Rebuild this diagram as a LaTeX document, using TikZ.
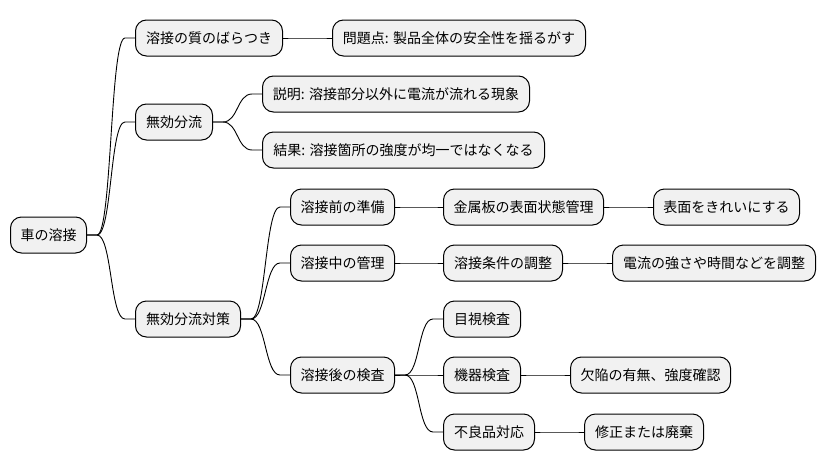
\documentclass[tikz,border=0pt]{standalone}
\usepackage{fontspec}
\setmainfont{Noto Sans CJK JP}
\usetikzlibrary{calc}
\definecolor{boxfill}{HTML}{F1F1F1}
\tikzset{
  mm/.style={draw=black, line width=1pt, fill=boxfill, rounded corners=11pt,
    minimum height=36pt, inner sep=0pt, anchor=west,
    font=\fontsize{14}{16}\selectfont},
  conn/.style={draw=black, line width=0.9pt}
}
\newcommand\mmconn[2]{%
  \draw[conn] (#1.east) -- ++(10,0) .. controls +(15,0) and +(-15,0) .. ($(#2.west)+(-10,0)$) -- (#2.west);%
}
\begin{document}
\begin{tikzpicture}[x=1pt,y=-1pt]
\useasboundingbox (0,0) rectangle (824,471);
\node[mm, minimum width=76pt] (root) at (10,235) {車の溶接};
\node[mm, minimum width=147pt] (q) at (135,38) {溶接の質のばらつき};
\node[mm, minimum width=253pt] (p) at (332,38) {問題点: 製品全体の安全性を揺るがす};
\node[mm, minimum width=77pt] (m) at (135,122) {無効分流};
\node[mm, minimum width=267pt] (e) at (262,94) {説明: 溶接部分以外に電流が流れる現象};
\node[mm, minimum width=282pt] (r) at (262,150) {結果: 溶接箇所の強度が均一ではなくなる};
\node[mm, minimum width=105pt] (t) at (135,319) {無効分流対策};
\node[mm, minimum width=104pt] (pre) at (290,207) {溶接前の準備};
\node[mm, minimum width=160pt] (metal) at (443,207) {金属板の表面状態管理};
\node[mm, minimum width=146pt] (clean) at (653,207) {表面をきれいにする};
\node[mm, minimum width=104pt] (mid) at (290,263) {溶接中の管理};
\node[mm, minimum width=119pt] (cond) at (443,263) {溶接条件の調整};
\node[mm, minimum width=203pt] (cur) at (612,263) {電流の強さや時間などを調整};
\node[mm, minimum width=104pt] (post) at (290,375) {溶接後の検査};
\node[mm, minimum width=77pt] (vis) at (443,319) {目視検査};
\node[mm, minimum width=77pt] (dev) at (443,375) {機器検査};
\node[mm, minimum width=160pt] (def) at (570,375) {欠陥の有無、強度確認};
\node[mm, minimum width=91pt] (ng) at (443,432) {不良品対応};
\node[mm, minimum width=119pt] (fix) at (584,432) {修正または廃棄};
\mmconn{root}{q}
\mmconn{root}{m}
\mmconn{root}{t}
\mmconn{q}{p}
\mmconn{m}{e}
\mmconn{m}{r}
\mmconn{t}{pre}
\mmconn{t}{mid}
\mmconn{t}{post}
\mmconn{pre}{metal}
\mmconn{metal}{clean}
\mmconn{mid}{cond}
\mmconn{cond}{cur}
\mmconn{post}{vis}
\mmconn{post}{dev}
\mmconn{post}{ng}
\mmconn{dev}{def}
\mmconn{ng}{fix}
\end{tikzpicture}
\end{document}
